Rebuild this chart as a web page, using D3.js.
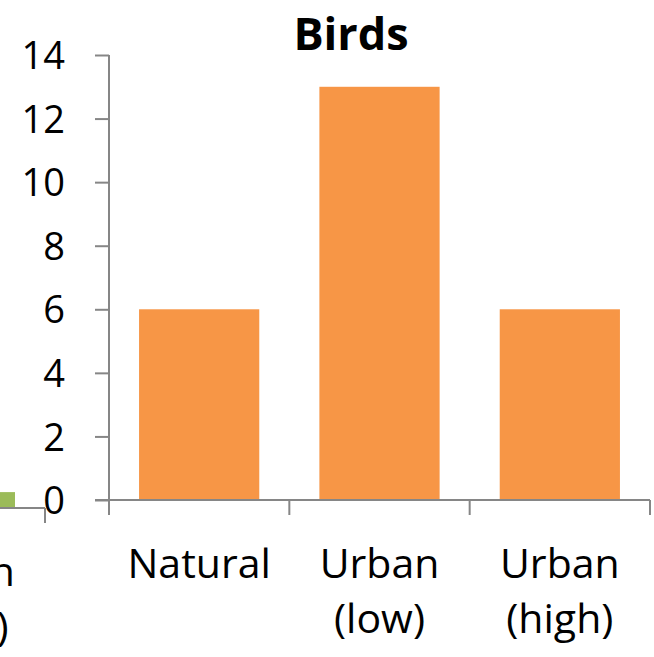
<!DOCTYPE html>
<html>
<head>
<meta charset="utf-8">
<script src="https://cdn.jsdelivr.net/npm/d3@7"></script>
<style>
  html, body { margin: 0; padding: 0; background: #fff; }
  svg { display: block; }
  text { font-family: "Open Sans", Lato, sans-serif; fill: #000; }
</style>
</head>
<body>
<svg id="chart" width="654" height="657"></svg>
<script>
// Birds panel data
const categories = ["Natural", "Urban (low)", "Urban (high)"];
const birdCounts = [6, 13, 6];
const yTicks = [0, 2, 4, 6, 8, 10, 12, 14];

// Neighbouring panel (only its right edge shows)
const neighborCategories = ["Natural", "Urban (low)", "Urban (high)"];
const neighborValues = [0, 0, 0.5];

const svg = d3.select("#chart");
const axisColor = "#868686";

function drawPanel(g, cats, vals, opts) {
  const x = d3.scaleBand().domain(cats).range([opts.x0, opts.x1]).paddingInner(1/3).paddingOuter(1/6);
  const y = d3.scaleLinear().domain([0, 14]).range([opts.y0, opts.y1]);

  g.selectAll("rect.bar").data(vals).join("rect")
    .attr("class", "bar")
    .attr("x", (d, i) => x(cats[i]))
    .attr("width", x.bandwidth())
    .attr("y", d => y(d))
    .attr("height", d => y(0) - y(d))
    .attr("fill", opts.color);

  // category axis: baseline plus boundary ticks
  const bounds = d3.range(cats.length + 1).map(i => opts.x0 + i * (opts.x1 - opts.x0) / cats.length);
  g.append("line")
    .attr("x1", opts.x0 - (opts.showY ? 14 : 0)).attr("x2", opts.x1)
    .attr("y1", y(0)).attr("y2", y(0))
    .attr("stroke", axisColor).attr("stroke-width", 2);
  g.selectAll("line.xt").data(bounds).join("line")
    .attr("class", "xt")
    .attr("x1", d => d).attr("x2", d => d)
    .attr("y1", y(0)).attr("y2", y(0) + 15)
    .attr("stroke", axisColor).attr("stroke-width", 2);

  // category labels, wrapped on the space
  const lab = g.selectAll("text.cat").data(cats).join("text")
    .attr("class", "cat")
    .attr("text-anchor", "middle")
    .style("font-size", "41px");
  lab.each(function(d) {
    const parts = d.split(" ");
    const t = d3.select(this);
    parts.forEach((p, k) => {
      t.append("tspan")
        .attr("x", x(d) + x.bandwidth() / 2)
        .attr("y", y(0) + 78 + k * 55)
        .text(p);
    });
  });

  if (opts.showY) {
    const axis = d3.axisLeft(y).tickValues(yTicks).tickSize(14).tickPadding(30).tickFormat(d3.format("d"));
    const ag = g.append("g").attr("transform", `translate(${opts.x0},0)`).call(axis);
    ag.select(".domain").attr("stroke", axisColor).attr("stroke-width", 2)
      .attr("d", `M0,${y(14)}V${y(0) + 15}`);
    ag.selectAll(".tick line").attr("stroke", axisColor).attr("stroke-width", 2);
    ag.selectAll(".tick text")
      .style("font-size", "38px")
      .style("font-family", "'Open Sans', Lato, sans-serif")
      .attr("dy", "0.36em")
      .attr("fill", "#000");
  }
  return { x, y };
}

// neighbouring panel, mostly off-canvas to the left
drawPanel(svg.append("g"), neighborCategories, neighborValues, {
  x0: -495, x1: 45, y0: 508, y1: 63, color: "#9BBB59", showY: false
});

// Birds panel
drawPanel(svg.append("g"), categories, birdCounts, {
  x0: 109, x1: 650, y0: 500, y1: 55, color: "#F79646", showY: true
});

svg.append("text")
  .attr("x", 351).attr("y", 50)
  .attr("text-anchor", "middle")
  .style("font-size", "45px").style("font-weight", "bold")
  .text("Birds");
</script>
</body>
</html>
